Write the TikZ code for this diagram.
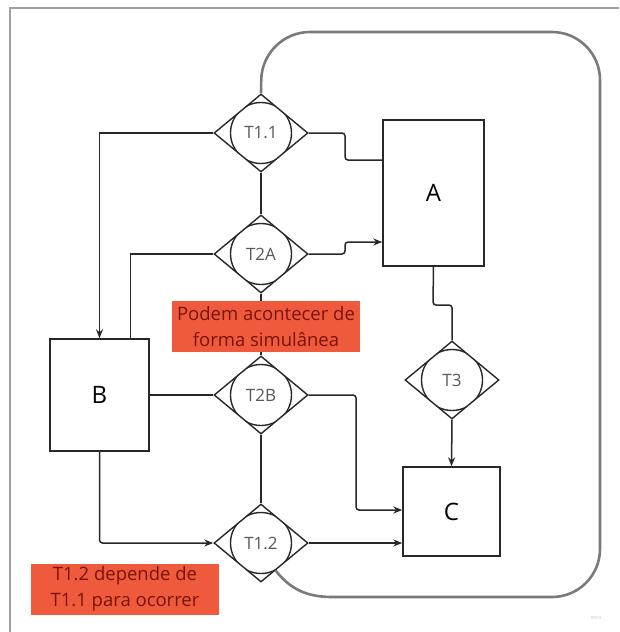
\documentclass[tikz,border=0pt]{standalone}
\usepackage{fontspec}
\setmainfont{Open Sans}
\usetikzlibrary{shapes.geometric,arrows.meta}
\definecolor{notefill}{RGB}{240,90,60}
\definecolor{notetext}{RGB}{120,20,10}
\definecolor{lnk}{RGB}{40,40,40}
\definecolor{bound}{RGB}{122,122,122}

\begin{document}
\begin{tikzpicture}[x=1pt,y=-1pt,
    >={Stealth[length=9pt,width=7pt]},
    conn/.style={line width=1.5pt,color=lnk},
    trans/.style={diamond,draw=lnk,line width=1.4pt,fill=white,inner sep=0pt,
        minimum width=94pt,minimum height=78pt,font=\fontsize{17}{20}\selectfont,text=black!65,
        path picture={\draw[lnk,line width=1.4pt] (path picture bounding box.center) circle[radius=30.5pt];}},
    place/.style={draw=lnk,line width=1.4pt,fill=white,inner sep=0pt,font=\fontsize{24}{28}\selectfont},
    note/.style={fill=notefill,text=notetext,align=center,inner sep=0pt,
        minimum width=188pt,minimum height=51pt,font=\fontsize{18.5}{26}\selectfont}]
        \useasboundingbox (0,0) rectangle (619,632);
        \draw[line width=1.5pt,gray!75] (10,632) -- (10,8) -- (619,8);

        % places
        \node[place,minimum width=101pt,minimum height=146pt] (a) at (433.5,193) {A};
        \node[place,minimum width=99pt,minimum height=112pt] (b) at (99.5,395) {B};
        \node[place,minimum width=97pt,minimum height=89pt] (c) at (451.5,511.5) {C};

        % transitions
        \node[trans] (t11) at (261,133) {T1.1};
        \node[trans] (t2a) at (261,254) {T2A};
        \node[trans] (t2b) at (261,395) {T2B};
        \node[trans] (t12) at (261,543) {T1.2};
        \node[trans] (t3) at (452,380) {T3};

        \coordinate (lo) at (332,597);
        \draw[line width=2.6pt,bound] (t12.-62) to[out=-52,in=180] (lo);
        \draw[line width=2.6pt,bound,rounded corners=48pt] (lo)
            -- (600,597) -- (600,32) -- (262,32) -- (t11.north);

        \draw[conn] (t11.south) -- (t2a.north);
        \draw[conn] (t2a.south) -- (t2b.north);
        \draw[conn] (t2b.south) -- (t12.north);

        \draw[conn,->] (t11.west) -| (b.north);
        \draw[conn] (t2a.west) -| ([xshift=31pt]b.north);
        \coordinate (ja) at (345,160);
        \draw[conn,rounded corners=3pt] (t11.east) -| (ja) -- (ja -| a.west);
        \coordinate (jb) at (345,242);
        \draw[conn,->,rounded corners=3pt] (t2a.east) -| (jb) -- (jb -| a.west);
        \draw[conn] (b.east) -- (t2b.west);
        \coordinate (jc) at (356,510);
        \draw[conn,->,rounded corners=3pt] (t2b.east) -| (jc) -- (jc -| c.west);
        \draw[conn,->,rounded corners=3pt] (b.south) |- (t12.west);
        \draw[conn,->] (t12.east) -- (t12.east -| c.west);
        \coordinate (jd) at (433,305);
        \draw[conn,rounded corners=3pt] (a.south) -- (jd) -| (t3.north);
        \draw[conn,->] (t3.south) -- (c.north);

        % notes
        \node[note] (sim) at (266,326.5) {Podem acontecer de\\forma simulânea};
        \node[note] (dep) at (125,589) {T1.2 depende de\\T1.1 para ocorrer};
        \node[font=\fontsize{5}{6}\selectfont,text=gray!50] (wm) at (596,618) {miro};

    \end{tikzpicture}
\end{document}
